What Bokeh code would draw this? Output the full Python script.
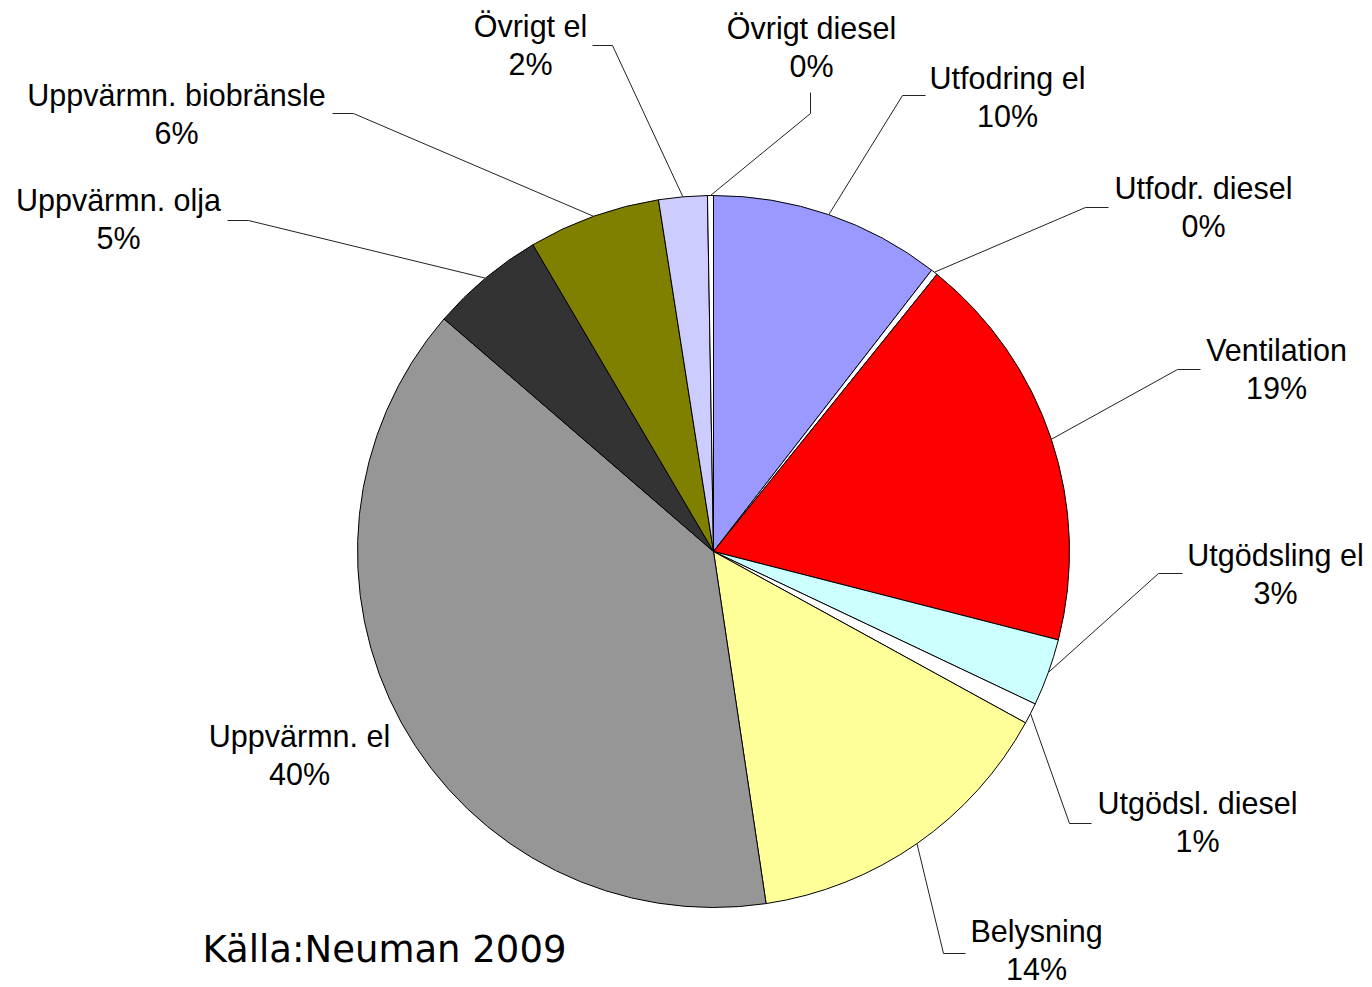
import numpy as np
from bokeh.plotting import figure
from bokeh.models import Range1d, ColumnDataSource
from bokeh.core.properties import value
from bokeh.embed import file_html
from bokeh.resources import INLINE

# ---- data ----
names = ["Utfodring el", "Utfodr. diesel", "Ventilation", "Utgödsling el",
         "Utgödsl. diesel", "Belysning", "Uppvärmn. el", "Uppvärmn. olja",
         "Uppvärmn. biobränsle", "Övrigt el", "Övrigt diesel"]
shares = [10.5, 0.3, 18.2, 3.05, 0.95, 14.65, 38.7, 5.2, 6.0, 2.2, 0.27]
pct_labels = ["10%", "0%", "19%", "3%", "1%", "14%", "40%", "5%", "6%", "2%", "0%"]
colors = ["#9999FF", "#FFFFFF", "#FF0000", "#CCFFFF", "#FFFFFF", "#FFFF99",
          "#969696", "#333333", "#808000", "#CCCCFF", "#FFFFFF"]
source_text = "Källa:Neuman 2009"

# ---- layout (screen pixels; y is negated in data space) ----
W, H = 1372, 987
CX, CY, R = 713, 551, 356
# label centre x, first baseline y
label_pos = [(1007, 88), (1203, 198), (1276, 360), (1275, 565), (1197, 813),
             (1036, 941), (299, 746), (118, 210), (176, 105), (530, 36), (811, 38)]
LINE_GAP = 38
LABEL_SHIFT = 11   # rendering correction for baseline placement
SRC_SHIFT = 13
# leader elbows and ends (None = no leader)
leader_elbow = [(902, 95), (1085, 207), (1177, 369), (1158, 573), (1069, 823),
                (943, 953), None, (248, 220), (353, 113), (612, 45), (810, 113)]
leader_end = [(925, 95), (1108, 207), (1200, 369), (1182, 573), (1091, 823),
              (965, 953), None, (227, 220), (332, 113), (592, 45), (810, 92)]

p = figure(width=W, height=H, output_backend="svg", toolbar_location=None,
           x_axis_type=None, y_axis_type=None, min_border=0,
           x_range=Range1d(0, W), y_range=Range1d(-H, 0))
p.grid.visible = False
p.outline_line_color = None
p.background_fill_color = "white"
p.border_fill_color = "white"

vals = np.array(shares, dtype=float)
frac = vals / vals.sum()
cum = np.concatenate([[0.0], np.cumsum(frac)])
start = np.pi / 2 - 2 * np.pi * cum[:-1]
end = np.pi / 2 - 2 * np.pi * cum[1:]
mid = (start + end) / 2

src = ColumnDataSource(dict(start=start, end=end, color=colors, name=names))
p.wedge(x=CX, y=-CY, radius=R, start_angle="start", end_angle="end",
        direction="clock", fill_color="color", line_color="black",
        line_width=1, source=src)

# leader lines
xs, ys = [], []
for i in range(len(names)):
    if leader_elbow[i] is None:
        continue
    ax = CX + R * np.cos(mid[i])
    ay = -CY + R * np.sin(mid[i])
    ex, ey = leader_elbow[i]
    tx, ty = leader_end[i]
    xs.append([ax, ex, tx])
    ys.append([ay, -ey, -ty])
p.multi_line(xs=xs, ys=ys, line_color="#222222", line_width=1)

# labels
lx = [pos[0] for pos in label_pos]
ly1 = [-(pos[1] - LABEL_SHIFT) for pos in label_pos]
ly2 = [-(pos[1] + LINE_GAP - LABEL_SHIFT) for pos in label_pos]
p.text(x=lx, y=ly1, text=names, text_font=value("Liberation Sans"),
       text_font_size="30.5px", text_align="center", text_baseline="alphabetic",
       text_color="black")
p.text(x=lx, y=ly2, text=pct_labels, text_font=value("Liberation Sans"),
       text_font_size="30.5px", text_align="center", text_baseline="alphabetic",
       text_color="black")

p.text(x=[202], y=[-(962 - SRC_SHIFT)], text=[source_text], text_font=value("DejaVu Sans"),
       text_font_size="37px", text_align="left", text_baseline="alphabetic",
       text_color="black")

open("out.html", "w").write(file_html(p, INLINE))
